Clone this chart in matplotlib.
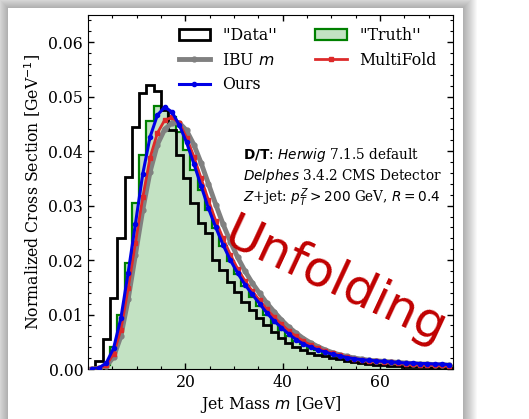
import numpy as np
import matplotlib
matplotlib.use("Agg")
import matplotlib.pyplot as plt
from matplotlib.patches import Rectangle, Patch
from matplotlib.lines import Line2D

# jet mass binning, 1.5 GeV bins from 0 to 75 GeV
bin_edges = np.linspace(0, 75, 51)

data_hist = [
    0.0002, 0.0015, 0.0056, 0.0130, 0.0240, 0.0353, 0.0445, 0.0506, 0.0521, 0.0510,
    0.0475, 0.0439, 0.0393, 0.0350, 0.0305, 0.0268, 0.0249, 0.0201, 0.0182, 0.0160,
    0.0142, 0.0123, 0.0108, 0.0093, 0.0081, 0.0068, 0.0057, 0.0047, 0.0040, 0.0035,
    0.0030, 0.0026, 0.0023, 0.0020, 0.0018, 0.0015, 0.0013, 0.0011, 0.0009, 0.0008,
    0.0007, 0.0006, 0.0005, 0.0004, 0.0004, 0.0003, 0.0003, 0.0002, 0.0002, 0.0002,
]
truth_hist = [
    0.0000, 0.0002, 0.0008, 0.0041, 0.0099, 0.0195, 0.0304, 0.0393, 0.0455, 0.0482,
    0.0478, 0.0462, 0.0435, 0.0403, 0.0366, 0.0328, 0.0292, 0.0258, 0.0226, 0.0198,
    0.0174, 0.0152, 0.0133, 0.0116, 0.0099, 0.0085, 0.0071, 0.0061, 0.0052, 0.0045,
    0.0039, 0.0034, 0.0030, 0.0026, 0.0023, 0.0020, 0.0018, 0.0016, 0.0014, 0.0013,
    0.0012, 0.0011, 0.0010, 0.0009, 0.0008, 0.0008, 0.0007, 0.0007, 0.0006, 0.0006,
]
ibu_vals = [
    0.0000, 0.0001, 0.0005, 0.0022, 0.0060, 0.0128, 0.0210, 0.0292, 0.0362, 0.0412,
    0.0440, 0.0452, 0.0452, 0.0438, 0.0412, 0.0378, 0.0340, 0.0302, 0.0266, 0.0234,
    0.0205, 0.0180, 0.0158, 0.0139, 0.0121, 0.0105, 0.0090, 0.0077, 0.0066, 0.0056,
    0.0048, 0.0041, 0.0035, 0.0030, 0.0026, 0.0023, 0.0020, 0.0018, 0.0016, 0.0015,
    0.0014, 0.0013, 0.0012, 0.0011, 0.0010, 0.0009, 0.0009, 0.0008, 0.0008, 0.0007,
]
ours_vals = [
    0.0000, 0.0002, 0.0011, 0.0038, 0.0093, 0.0177, 0.0267, 0.0358, 0.0426, 0.0466,
    0.0481, 0.0472, 0.0448, 0.0416, 0.0377, 0.0336, 0.0295, 0.0260, 0.0228, 0.0200,
    0.0176, 0.0155, 0.0137, 0.0120, 0.0103, 0.0088, 0.0076, 0.0064, 0.0054, 0.0046,
    0.0040, 0.0035, 0.0031, 0.0027, 0.0024, 0.0021, 0.0019, 0.0017, 0.0016, 0.0015,
    0.0014, 0.0013, 0.0012, 0.0011, 0.0011, 0.0010, 0.0010, 0.0009, 0.0009, 0.0008,
]
multifold_vals = [
    0.0000, 0.0001, 0.0007, 0.0028, 0.0072, 0.0148, 0.0232, 0.0315, 0.0388, 0.0433,
    0.0457, 0.0462, 0.0452, 0.0425, 0.0390, 0.0350, 0.0310, 0.0272, 0.0240, 0.0210,
    0.0184, 0.0162, 0.0143, 0.0126, 0.0110, 0.0095, 0.0082, 0.0070, 0.0060, 0.0051,
    0.0044, 0.0038, 0.0033, 0.0029, 0.0025, 0.0022, 0.0019, 0.0017, 0.0015, 0.0014,
    0.0013, 0.0012, 0.0011, 0.0010, 0.0009, 0.0008, 0.0008, 0.0007, 0.0007, 0.0006,
]

plt.rcParams["font.family"] = "DejaVu Serif"
plt.rcParams["mathtext.fontset"] = "dejavusans"

W, H = 529, 419
fig = plt.figure(figsize=(W / 100, H / 100), dpi=100)
fig.patch.set_facecolor("white")

# card with soft drop shadow, like the screenshot
cx0, cx1, cy0 = 8, 463, 8
for i in range(14, 0, -1):
    fig.patches.append(Rectangle(
        ((cx0 - i) / W, -0.1), (cx1 - cx0 + 2 * i) / W, 1.1 - (cy0 - i) / H,
        transform=fig.transFigure, facecolor="black", alpha=0.022,
        edgecolor="none", zorder=-20))
fig.patches.append(Rectangle(
    (cx0 / W, -0.1), (cx1 - cx0) / W, 1.1 - cy0 / H,
    transform=fig.transFigure, facecolor="white", edgecolor="none", zorder=-10))

ax = fig.add_axes([88 / W, 50 / H, 365 / W, 354 / H])

centers = 0.5 * (bin_edges[:-1] + bin_edges[1:])

ax.stairs(truth_hist, bin_edges, fill=True, facecolor="#c3e2c3", edgecolor="none", zorder=1)
ax.stairs(truth_hist, bin_edges, color="green", lw=1.6, zorder=2)
ax.stairs(data_hist, bin_edges, color="black", lw=2.0, zorder=3)

ax.plot(centers, ibu_vals, color="gray", lw=3.5, marker="o", ms=3.5, zorder=4)
ax.plot(centers, multifold_vals, color="#dd2a2a", lw=2.0, marker="s", ms=2.8, zorder=5)
ax.plot(centers, ours_vals, color="#0000e6", lw=2.2, marker="o", ms=3.0, zorder=6)

ax.set_xlim(0, 75)
ax.set_ylim(0, 0.065)
ax.set_xticks([20, 40, 60])
ax.set_xticks(np.arange(0, 76, 5), minor=True)
ax.set_yticks(np.arange(0, 0.061, 0.01))
ax.set_yticks(np.arange(0, 0.065, 0.002), minor=True)
ax.yaxis.set_major_formatter(matplotlib.ticker.FormatStrFormatter("%.2f"))
ax.tick_params(which="both", direction="in", top=True, right=True, labelsize=11.3)
ax.tick_params(which="major", length=4.5, width=1)
ax.tick_params(which="minor", length=2.5, width=0.8)

ax.set_xlabel("Jet Mass $m$ [GeV]", fontsize=11.3, labelpad=2)
ax.set_ylabel("Normalized Cross Section [GeV$^{-1}$]", fontsize=11.3, labelpad=4)

handles = [
    Patch(facecolor="none", edgecolor="black", lw=2.0),
    Line2D([], [], color="gray", lw=3.5, marker="o", ms=3.5),
    Line2D([], [], color="#0000e6", lw=2.2, marker="o", ms=3.0),
    Patch(facecolor="#c3e2c3", edgecolor="green", lw=1.6),
    Line2D([], [], color="#dd2a2a", lw=2.0, marker="s", ms=2.8),
]
labels = ["''Data''", "IBU $m$", "Ours", "''Truth''", "MultiFold"]
ax.legend(handles, labels, loc="upper right", ncol=2, frameon=False,
          fontsize=11.3, handlelength=2.0, columnspacing=2.43,
          labelspacing=0.48, bbox_to_anchor=(0.994, 1.005))

ax.text(0.425, 0.605, r"$\bf{D/T}$: $\it{Herwig}$ 7.1.5 default",
        transform=ax.transAxes, fontsize=9.8, va="center")
ax.text(0.425, 0.545, r"$\it{Delphes}$ 3.4.2 CMS Detector",
        transform=ax.transAxes, fontsize=9.8, va="center")
ax.text(0.425, 0.485, r"$Z$+jet: $p_T^Z > 200$ GeV, $R = 0.4$",
        transform=ax.transAxes, fontsize=9.8, va="center")

fig.text(335 / W, 1 - 282 / H, "Unfolding", family="DejaVu Sans",
         fontsize=36, color="#c00000", rotation=-25,
         ha="center", va="center", rotation_mode="anchor", zorder=10)

fig.savefig("out.png", dpi=100)
